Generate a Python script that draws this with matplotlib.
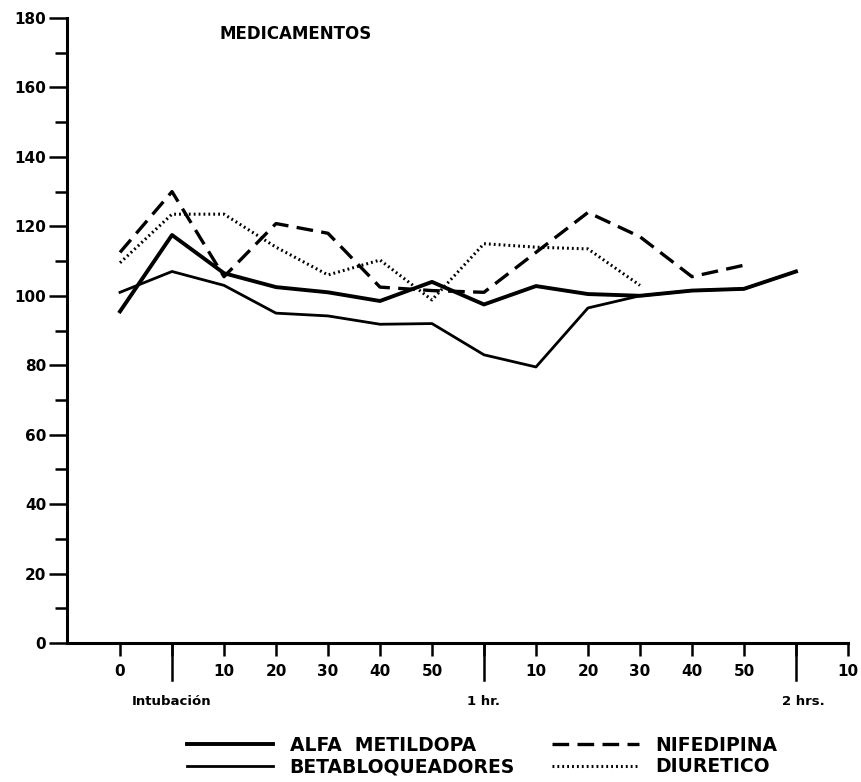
import numpy as np
import matplotlib
matplotlib.use("Agg")
import matplotlib.pyplot as plt

# time points (index positions along the x axis)
x_labels = ["0", "", "10", "20", "30", "40", "50", "", "10", "20", "30", "40", "50", "", "10"]
big_marks = {1: "Intubación", 7: "1 hr.", 13: "2 hrs."}

alfa_metildopa = [95.5, 117.5, 106.5, 102.5, 101.0, 98.5, 104.0, 97.5, 102.8, 100.5, 100.0, 101.5, 102.0, 107.0]
betabloqueadores = [101.0, 107.0, 103.0, 95.0, 94.2, 91.8, 92.0, 83.0, 79.5, 96.5, 100.0, 101.5, 102.0, 107.0]
nifedipina = [112.5, 130.0, 105.5, 120.8, 118.0, 102.5, 101.5, 101.0, 112.5, 124.0, 117.0, 105.5, 108.8]
diuretico = [109.5, 123.5, 123.5, 114.0, 106.0, 110.3, 98.8, 115.0, 114.0, 113.5, 103.0]

plt.rcParams['font.family'] = ['DejaVu Sans']
plt.rcParams['font.weight'] = 'bold'

fig = plt.figure(figsize=(8.62, 7.82), dpi=100)
ax = fig.add_axes([0.0777, 0.1777, 0.906, 0.7993])

ax.plot(range(len(alfa_metildopa)), alfa_metildopa, color='black', lw=2.8, label='ALFA  METILDOPA')
ax.plot(range(len(betabloqueadores)), betabloqueadores, color='black', lw=2.0, label='BETABLOQUEADORES')
ax.plot(range(len(nifedipina)), nifedipina, color='black', lw=2.4, dashes=(5, 2.5), label='NIFEDIPINA')
ax.plot(range(len(diuretico)), diuretico, color='black', lw=2.2, dashes=(0.6, 1.0), label='DIURETICO')

ax.set_xlim(-1.02, 14)
ax.set_ylim(0, 180)

for s in ['top', 'right']:
    ax.spines[s].set_visible(False)
for s in ['left', 'bottom']:
    ax.spines[s].set_linewidth(2.2)

# y ticks
ax.set_yticks(np.arange(0, 181, 20))
ax.set_yticks(np.arange(10, 180, 20), minor=True)
ax.tick_params(axis='y', which='major', length=13, width=1.8, labelsize=11, pad=2)
ax.tick_params(axis='y', which='minor', length=9, width=1.8)

# x ticks
ax.set_xticks(range(len(x_labels)))
ax.set_xticklabels(x_labels)
ax.tick_params(axis='x', which='major', length=9, width=1.8, labelsize=11, pad=6)
for i, lab in big_marks.items():
    ax.plot([i, i], [0, -10.5], color='black', lw=1.8, clip_on=False)
    dx = 0.15 if i == 13 else 0
    ax.text(i + dx, -16.9, lab, ha='center', va='center', fontsize=9.5, fontweight='bold')

ax.text(3.37, 175.5, 'MEDICAMENTOS', ha='center', va='center', fontsize=12, fontweight='bold')

fig.legend(loc='center', bbox_to_anchor=(482 / 862, 1 - 756 / 782), ncol=2, frameon=False,
           handlelength=4.6, handletextpad=0.9, columnspacing=2.0,
           labelspacing=0.15, prop={'weight': 'bold', 'size': 13.5})

fig.savefig('out.png', dpi=100)
